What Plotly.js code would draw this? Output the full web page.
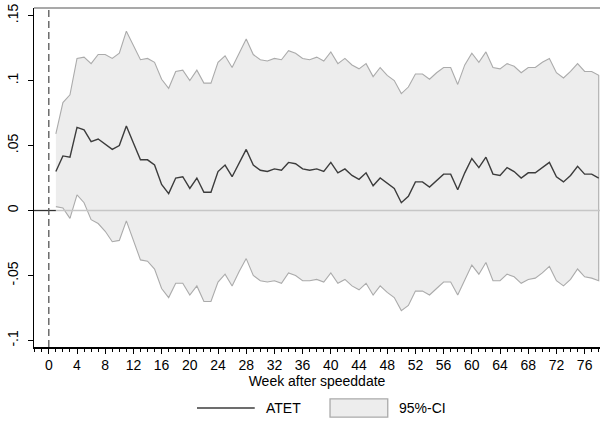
<!DOCTYPE html>
<html>
<head>
<meta charset="utf-8">
<script src="https://cdn.plot.ly/plotly-3.0.1.min.js"></script>
<style>
  html, body { margin: 0; padding: 0; background: #fff; overflow: hidden; }
  #chart { width: 600px; height: 428px; }
</style>
</head>
<body>
<div id="chart"></div>
<script>
// Weekly treatment effect (ATET) with its 95% confidence interval
const weeks = Array.from({length: 78}, (_, i) => i + 1);

const atet = [
  0.030, 0.042, 0.041, 0.064, 0.062, 0.053, 0.055, 0.051, 0.047, 0.050,
  0.065, 0.052, 0.039, 0.039, 0.035, 0.020, 0.013, 0.025, 0.026, 0.017,
  0.025, 0.014, 0.014, 0.030, 0.035, 0.026, 0.036, 0.047, 0.035, 0.031,
  0.030, 0.032, 0.031, 0.037, 0.036, 0.032, 0.031, 0.032, 0.030, 0.037,
  0.029, 0.032, 0.027, 0.024, 0.029, 0.019, 0.025, 0.021, 0.017, 0.006,
  0.011, 0.022, 0.022, 0.018, 0.023, 0.028, 0.028, 0.016, 0.029, 0.040,
  0.033, 0.041, 0.028, 0.027, 0.033, 0.030, 0.025, 0.029, 0.029, 0.033,
  0.037, 0.026, 0.022, 0.027, 0.034, 0.028, 0.028, 0.025
];

const ciUpper = [
  0.059, 0.083, 0.089, 0.117, 0.118, 0.113, 0.120, 0.120, 0.117, 0.121,
  0.138, 0.127, 0.116, 0.117, 0.114, 0.101, 0.094, 0.107, 0.108, 0.100,
  0.108, 0.098, 0.098, 0.114, 0.119, 0.110, 0.121, 0.132, 0.120, 0.116,
  0.115, 0.117, 0.116, 0.123, 0.121, 0.117, 0.116, 0.118, 0.115, 0.122,
  0.113, 0.117, 0.112, 0.109, 0.113, 0.103, 0.110, 0.104, 0.100, 0.090,
  0.095, 0.105, 0.105, 0.101, 0.106, 0.110, 0.110, 0.097, 0.112, 0.121,
  0.114, 0.122, 0.110, 0.109, 0.113, 0.111, 0.106, 0.110, 0.110, 0.114,
  0.117, 0.106, 0.102, 0.107, 0.113, 0.107, 0.107, 0.104
];

const ciLower = [
  0.003, 0.002, -0.006, 0.012, 0.006, -0.007, -0.010, -0.016, -0.024, -0.023,
  -0.008, -0.023, -0.038, -0.039, -0.045, -0.060, -0.067, -0.056, -0.056, -0.065,
  -0.058, -0.070, -0.070, -0.055, -0.049, -0.058, -0.047, -0.037, -0.050, -0.054,
  -0.055, -0.054, -0.056, -0.048, -0.050, -0.054, -0.054, -0.053, -0.055, -0.048,
  -0.056, -0.053, -0.058, -0.061, -0.056, -0.065, -0.058, -0.063, -0.067, -0.077,
  -0.073, -0.062, -0.062, -0.065, -0.060, -0.055, -0.055, -0.065, -0.053, -0.042,
  -0.049, -0.040, -0.054, -0.054, -0.049, -0.051, -0.056, -0.053, -0.052, -0.048,
  -0.043, -0.054, -0.058, -0.053, -0.045, -0.051, -0.052, -0.054
];

const xTicks = Array.from({length: 20}, (_, i) => i * 4);
const yTicks = [-0.1, -0.05, 0, 0.05, 0.1, 0.15];
const yTickText = ['-.1', '-.05', '0', '.05', '.1', '.15'];
const legendLabels = ['ATET', '95%-CI'];

const FONT = 'Liberation Sans, Arial, Helvetica, sans-serif';
const LINE_COLOR = '#3c3c3c';
const BAND_FILL = '#ededed';
const BAND_EDGE = '#ababab';

// closed polygon: upper bound forward, lower bound back
const bandX = weeks.concat(weeks.slice().reverse());
const bandY = ciUpper.concat(ciLower.slice().reverse());

const traces = [
  {
    type: 'scatter', mode: 'lines', name: legendLabels[1],
    x: bandX, y: bandY, fill: 'toself',
    fillcolor: BAND_FILL,
    line: {color: BAND_EDGE, width: 1.1},
    hoverinfo: 'skip'
  },
  {
    type: 'scatter', mode: 'lines', name: legendLabels[0],
    x: weeks, y: atet,
    line: {color: LINE_COLOR, width: 1.4}
  }
];

// legend keys below the axis title, placed in paper units
const legendY = -0.18;
const legendShapes = [
  {type: 'line', xref: 'paper', yref: 'paper', x0: 0.288, x1: 0.39, y0: legendY, y1: legendY,
   line: {color: LINE_COLOR, width: 1.3}},
  {type: 'rect', xref: 'paper', yref: 'paper', x0: 0.523, x1: 0.625, y0: -0.153, y1: -0.207,
   fillcolor: BAND_FILL, line: {color: BAND_EDGE, width: 1.3}}
];
const legendText = [
  {xref: 'paper', yref: 'paper', x: 0.406, y: legendY, xanchor: 'left', yanchor: 'middle',
   text: legendLabels[0], showarrow: false, font: {family: FONT, size: 14, color: '#000'}},
  {xref: 'paper', yref: 'paper', x: 0.642, y: legendY, xanchor: 'left', yanchor: 'middle',
   text: legendLabels[1], showarrow: false, font: {family: FONT, size: 14, color: '#000'}}
];

const layout = {
  width: 600, height: 428,
  margin: {l: 34, r: 0, t: 8, b: 81},
  paper_bgcolor: '#ffffff', plot_bgcolor: '#ffffff',
  font: {family: FONT, size: 14, color: '#000'},
  showlegend: false,
  xaxis: {
    range: [-2.1, 78.18],
    tickmode: 'array', tickvals: xTicks,
    ticks: 'outside', ticklen: 5, tickwidth: 1, tickcolor: '#000',
    minor: {dtick: 1, tick0: 0, ticks: 'outside', ticklen: 3, tickcolor: '#000', showgrid: false},
    showline: true, linecolor: '#000', linewidth: 1.5,
    showgrid: false, zeroline: false,
    tickfont: {family: FONT, size: 14, color: '#000'},
    title: {text: 'Week after speeddate', font: {family: FONT, size: 14, color: '#000'}, standoff: 2}
  },
  yaxis: {
    range: [-0.105, 0.1558],
    tickmode: 'array', tickvals: yTicks, ticktext: yTickText,
    tickangle: -90, ticklabelstandoff: 4,
    ticks: 'outside', ticklen: 5, tickwidth: 1, tickcolor: '#000',
    showline: true, linecolor: '#000', linewidth: 1.5,
    showgrid: false, zeroline: false,
    tickfont: {family: FONT, size: 14, color: '#000'}
  },
  shapes: [
    // top frame line
    {type: 'line', xref: 'paper', yref: 'paper', x0: 0, x1: 1, y0: 1, y1: 1,
     line: {color: '#555', width: 1.2}},
    // reference line at zero
    {type: 'line', xref: 'x', yref: 'y', x0: 1, x1: 78.18, y0: 0, y1: 0,
     layer: 'above', line: {color: '#c6c6c6', width: 1.3}},
    {type: 'line', xref: 'x', yref: 'y', x0: -2.1, x1: 1, y0: 0, y1: 0,
     line: {color: '#333', width: 1.3}},
    // speed-date week marker
    {type: 'line', xref: 'x', yref: 'paper', x0: 0, x1: 0, y0: 0, y1: 1,
     line: {color: '#555', width: 1.3, dash: '7px,4px'}}
  ].concat(legendShapes),
  annotations: legendText
};

Plotly.newPlot('chart', traces, layout, {displayModeBar: false, staticPlot: true});
</script>
</body>
</html>
